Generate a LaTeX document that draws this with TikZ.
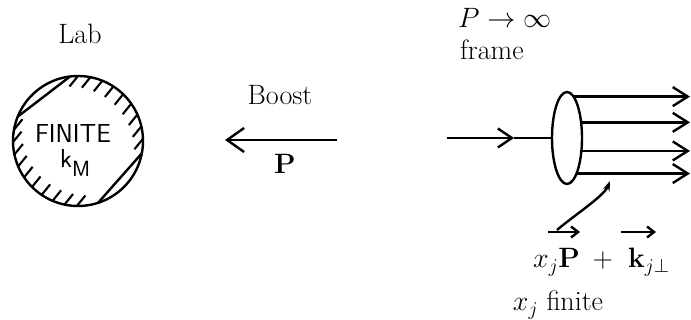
\RequirePackage{fix-cm}
\documentclass[tikz,border=0pt]{standalone}
\usepackage{amsmath,amssymb}
\usetikzlibrary{arrows.meta,shapes.geometric}
\begin{document}
\begin{tikzpicture}[x=1pt,y=1pt,
  txt/.style={font=\fontsize{28}{32}\selectfont, inner sep=0pt},
  sftxt/.style={font=\fontsize{26}{30}\selectfont\sffamily, inner sep=0pt},
  ln/.style={line width=2.4pt},
  hatch/.style={line width=2.1pt},
  bigtip/.style={-{Straight Barb[length=17pt,width=24pt]}},
  midtip/.style={-{Straight Barb[length=14pt,width=19pt]}},
  outtip/.style={-{Straight Barb[length=15pt,width=19pt]}},
  smalltip/.style={-{Straight Barb[length=7pt,width=11pt]}},
  curvetip/.style={-{Stealth[length=10pt,width=7pt]}}
]
\useasboundingbox (0,0) rectangle (691,320);

% ---------- Lab frame ----------
\node[txt, anchor=base] (lab) at (80,276) {Lab};
\node[draw, circle, ln, minimum size=130pt, inner sep=0pt, outer sep=0pt] (c) at (78,179) {};
\node[sftxt] (fin) at (73,187) {FINITE};
\node[sftxt, anchor=base west] (km) at (60,152) {k\raisebox{-9pt}{\fontsize{22}{24}\selectfont M}};
\foreach \a in {90,79,...,2}
  \draw[hatch] (c.\a) -- ++(-8.5,-10.5);
\foreach \a in {170,181,...,270}
  \draw[hatch] (c.\a) -- ++(8.5,10.5);
\draw[ln] (c.97) -- (c.158);
\draw[ln] (c.-72) -- (c.-11);

% ---------- Boost ----------
\node[txt, anchor=base] (boost) at (280,215) {Boost};
\coordinate (b1) at (337,180);
\coordinate (b2) at (225,180);
\draw[ln, bigtip] (b1) -- (b2);
\node[txt, anchor=base] (bp) at (285,146) {$\mathbf{P}$};

% ---------- P -> infinity frame ----------
\node[txt, anchor=base west] (pinf) at (458,292) {$P\to\infty$};
\node[txt, anchor=base west] (frame) at (460,260) {frame};
\node[draw, ellipse, ln, minimum width=30pt, minimum height=92pt, inner sep=0pt, outer sep=0pt] (e) at (567,182) {};
\coordinate (in) at (447,182);
\coordinate (mid) at (514,182);
\draw[ln, midtip] (in) -- (mid);
\draw[ln] (mid) -- (e.west);
\coordinate (end) at (690,0);
\foreach \a in {81.7,48.7,-42,-75.5}
  \draw[ln, outtip] (e.\a) -- (e.\a -| end);

% ---------- momentum labels ----------
\node[txt, anchor=base west] (xp) at (533,52) {$x_j\mathbf{P}$};
\node[txt, anchor=base] (plus) at (603,52) {$+$};
\node[txt, anchor=base west] (kj) at (628,52) {$\mathbf{k}_{j\perp}$};
\coordinate (a1s) at (548,88);
\coordinate (a1e) at (580,88);
\coordinate (a2s) at (621,88);
\coordinate (a2e) at (656,88);
\draw[ln, smalltip] (a1s) -- (a1e);
\draw[ln, smalltip] (a2s) -- (a2e);
\coordinate (cs) at (557,90);
\coordinate (ce) at (610,139);
\draw[ln, curvetip] (cs) .. controls (572,103) and (604,124) .. (ce);
\node[txt, anchor=base] (xf) at (558,9) {$x_j$ finite};
\end{tikzpicture}
\end{document}
